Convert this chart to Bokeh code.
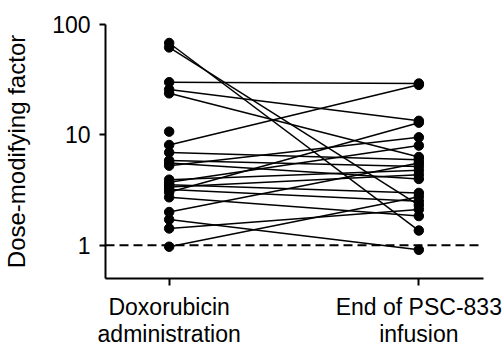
from bokeh.plotting import figure
from bokeh.models import Range1d, FixedTicker, Span, PrintfTickFormatter
from bokeh.embed import file_html
from bokeh.resources import INLINE

# Category positions and labels
categories = ["Doxorubicin\nadministration", "End of PSC-833\ninfusion"]
cat_pos = [0, 1]

# Paired dose-modifying factors (each index = one patient)
dox = [68, 62, 30, 25.8, 23.8, 8.1, 3.02, 5.26, 6.93, 5.87, 5.56, 3.93, 3.72,
       3.54, 3.38, 3.2, 2.72, 2.0, 1.71, 1.42, 0.97]
psc = [1.36, 2.31, 29.2, 13.4, 6.3, 28.4, 12.9, 9.5, 5.96, 5.18, 3.99, 4.77, 8.0,
       2.98, 4.36, 2.51, 1.84, 5.56, 0.91, 2.11, 2.75]
# Unpaired point
dox_single = [10.7]

FONT = "Liberation Sans"

p = figure(width=503, height=349, y_axis_type="log",
           x_range=Range1d(-0.255, 1.259), y_range=Range1d(0.5, 100),
           output_backend="svg", toolbar_location=None,
           min_border_left=103, min_border_right=20,
           min_border_top=24, min_border_bottom=69)
p.outline_line_color = None
p.grid.visible = False
p.background_fill_color = "white"
p.border_fill_color = "white"

# reference line at 1
p.add_layout(Span(location=1, dimension="width", line_color="black",
                  line_dash="9 5", line_width=2))

xs = [[cat_pos[0], cat_pos[1]] for _ in dox]
ys = [[a, b] for a, b in zip(dox, psc)]
p.multi_line(xs=xs, ys=ys, line_color="black", line_width=1.5)

px = [cat_pos[0]] * (len(dox) + len(dox_single)) + [cat_pos[1]] * len(psc)
py = list(dox) + list(dox_single) + list(psc)
p.scatter(px, py, size=9.5, color="black")

# axes
xa = p.xaxis[0]
xa.ticker = FixedTicker(ticks=cat_pos)
xa.major_label_overrides = {cat_pos[0]: categories[0], cat_pos[1]: categories[1]}
xa.minor_tick_line_color = None
xa.major_tick_in = 0
xa.major_tick_out = 7
xa.axis_line_width = 2
xa.major_tick_line_width = 2
xa.major_label_text_font = FONT
xa.major_label_text_font_size = "23px"
xa.major_label_text_color = "black"
xa.major_label_standoff = 8
xa.major_label_text_line_height = 1.05

ya = p.yaxis[0]
ya.ticker = FixedTicker(ticks=[1, 10, 100], minor_ticks=[])
ya.formatter = PrintfTickFormatter(format="%d")
ya.minor_tick_line_color = None
ya.major_tick_in = 0
ya.major_tick_out = 6
ya.axis_line_width = 2
ya.major_tick_line_width = 2
ya.major_label_text_font = FONT
ya.major_label_text_font_size = "23px"
ya.major_label_text_color = "black"
ya.major_label_standoff = 9
ya.axis_label = "Dose-modifying factor"
ya.axis_label_text_font = FONT
ya.axis_label_text_font_size = "24px"
ya.axis_label_text_font_style = "normal"
ya.axis_label_text_color = "black"
ya.axis_label_standoff = 19

open("out.html", "w").write(file_html(p, INLINE))
